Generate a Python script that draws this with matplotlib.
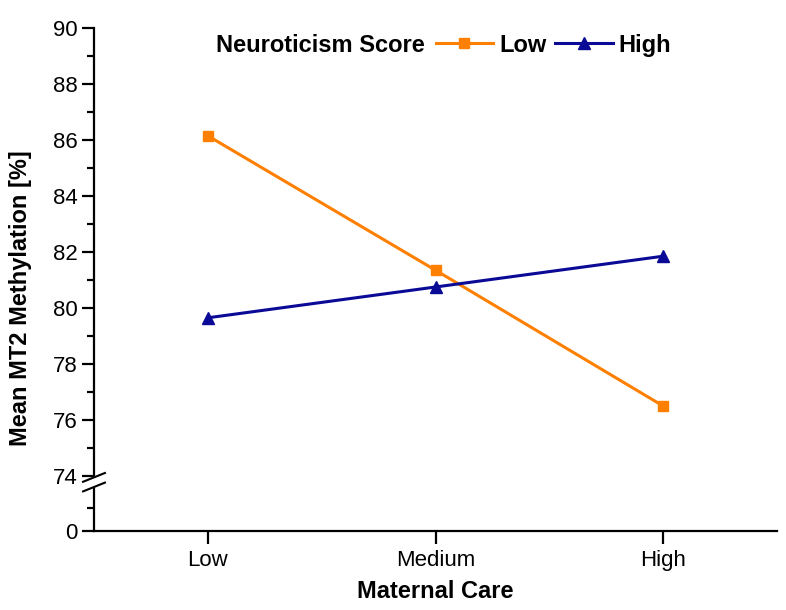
import matplotlib.pyplot as plt

plt.rcParams['font.family'] = ['Liberation Sans', 'DejaVu Sans']

care = ['Low', 'Medium', 'High']
low_neuro = [86.15, 81.35, 76.5]
high_neuro = [79.65, 80.75, 81.85]
y_ticks = [74, 76, 78, 80, 82, 84, 86, 88, 90]

orange = '#FF8000'
navy = '#0A0A96'

fig = plt.figure(figsize=(7.86, 6.1), dpi=100)
L, R = 94 / 786, 777 / 786
top_y, brk_y, bot_y = 1 - 28 / 610, 1 - 476 / 610, 1 - 531 / 610
ax = fig.add_axes([L, brk_y, R - L, top_y - brk_y])
axb = fig.add_axes([L, bot_y, R - L, brk_y - bot_y])

x = range(len(care))
ax.plot(x, low_neuro, color=orange, lw=2.2, marker='s', ms=7.5, label='Low')
ax.plot(x, high_neuro, color=navy, lw=2.2, marker='^', ms=8.5, label='High')

ax.set_xlim(-0.5, 2.5)
axb.set_xlim(-0.5, 2.5)
ax.set_ylim(74, 90)
ax.set_yticks(y_ticks)
ax.set_yticks([75, 77, 79, 81, 83, 85, 87, 89], minor=True)
ax.set_xticks([])
for s in ['top', 'right', 'bottom']:
    ax.spines[s].set_visible(False)
ax.spines['left'].set_linewidth(1.6)
ax.tick_params(axis='y', which='major', length=9, width=1.6, labelsize=16, pad=3)
ax.tick_params(axis='y', which='minor', length=5, width=1.6)

axb.set_ylim(0, 2)
axb.set_yticks([0])
axb.set_yticks([0.84], minor=True)
axb.set_xticks(list(x))
axb.set_xticklabels(care)
for s in ['top', 'right']:
    axb.spines[s].set_visible(False)
axb.spines['left'].set_linewidth(1.6)
axb.spines['bottom'].set_linewidth(1.6)
axb.spines['left'].set_bounds(0, 1.56)
axb.tick_params(axis='y', which='major', length=9, width=1.6, labelsize=16, pad=3)
axb.tick_params(axis='y', which='minor', length=5, width=1.6)
axb.tick_params(axis='x', length=9, width=1.6, labelsize=16, pad=5)

# axis break marks
for yb in [1.95, 1.6]:
    axb.plot([-0.548, -0.452], [yb - 0.16, yb + 0.16], color='black', lw=1.5,
             clip_on=False)

fig.text(0.026, 1 - 298 / 610, 'Mean MT2 Methylation [%]', rotation=90,
         ha='center', va='center', fontsize=17, fontweight='bold')
fig.text((L + R) / 2, 1 - 591 / 610, 'Maternal Care', ha='center', va='center',
         fontsize=17, fontweight='bold')

fig.text(216 / 786, 1 - 45 / 610, 'Neuroticism Score', ha='left', va='center',
         fontsize=17, fontweight='bold')
ax.legend(loc='center left', bbox_to_anchor=(0.5, 0.962), ncol=2, frameon=False,
          prop={'size': 17, 'weight': 'bold'}, handlelength=2.45, columnspacing=0.35,
          handletextpad=0.25, borderaxespad=0, borderpad=0)

fig.savefig('out.png', dpi=100)
